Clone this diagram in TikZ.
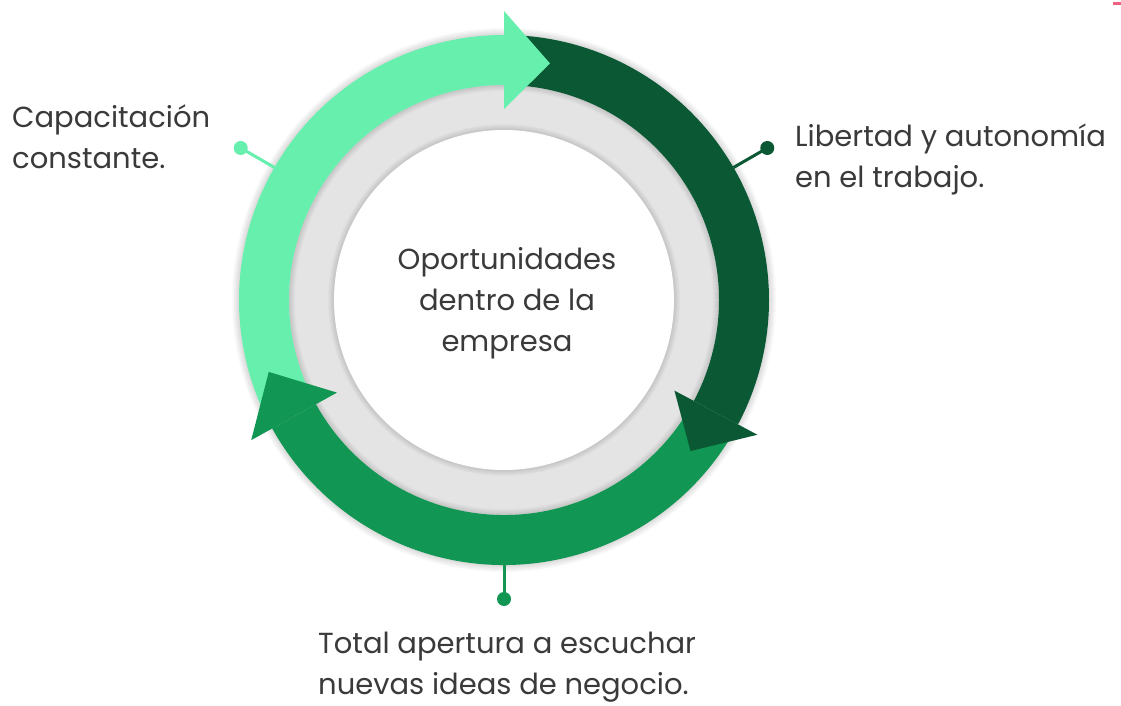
\documentclass[tikz,border=0pt]{standalone}
\usepackage{fontspec}
\setmainfont{Poppins}
\definecolor{lightg}{HTML}{66EFAD}
\definecolor{darkg}{HTML}{0A5934}
\definecolor{midg}{HTML}{119653}
\definecolor{ringgray}{HTML}{E4E4E4}
\definecolor{txt}{HTML}{3A3A3A}
\definecolor{pinkmark}{HTML}{F06080}
\tikzset{
  lbl/.style={inner sep=0pt, text=txt, font=\fontsize{29}{41}\selectfont},
  pindot/.style={circle, inner sep=0pt, minimum size=14pt},
  pinline/.style={line width=3pt},
}
\begin{document}
\begin{tikzpicture}[x=1pt,y=1pt]
\useasboundingbox (0,0) rectangle (1121,705);
\fill[white] (0,0) rectangle (1121,705);
\begin{scope}[shift={(504,405)}]
  % outer halo shadow
  \foreach \k in {1,...,7} {\fill[black,opacity=0.02] (0,0) circle (265+\k);}
  % gray disk
  \fill[ringgray] (0,0) circle (215);
  \foreach \k in {1,...,6} {\fill[black,opacity=0.02,even odd rule] (0,0) circle (215) (0,0) circle (215-\k);}
  \foreach \k in {1,...,6} {\fill[black,opacity=0.02] (0,0) circle (170+\k);}
  \fill[white] (0,0) circle (170);
  % band bodies
  \fill[lightg] (204:265) arc[start angle=204, end angle=90, radius=265] -- (90:215) arc[start angle=90, end angle=204, radius=215] -- cycle;
  \fill[darkg] (86:265) arc[start angle=86, end angle=-28, radius=265] -- (-28:215) arc[start angle=-28, end angle=86, radius=215] -- cycle;
  \fill[midg] (-32:265) arc[start angle=-32, end angle=-151, radius=265] -- (-151:215) arc[start angle=-151, end angle=-32, radius=215] -- cycle;
  % heads
  \fill[lightg] (90:289) -- (79:241) -- (90:191) -- cycle;
  \fill[darkg] (-28:287) -- (-39:240) -- (-28:193) -- cycle;
  \fill[midg] (-151:289) -- (-163:246) -- (-151:191) -- cycle;
  % pins
  \coordinate (p1) at (150:265);
  \coordinate (p2) at (30:265);
  \coordinate (p3) at (270:262);
  \node[pindot, fill=lightg] (d1) at (150:304) {};
  \node[pindot, fill=darkg] (d2) at (30:304) {};
  \node[pindot, fill=midg] (d3) at (270:299) {};
  \draw[pinline, lightg] (p1) -- (d1.center);
  \draw[pinline, darkg] (p2) -- (d2.center);
  \draw[pinline, midg] (p3) -- (d3.center);
  \node[lbl, align=center, anchor=center] (center) at (3,-3) {Oportunidades\\dentro de la\\empresa};
\end{scope}
\node[lbl, align=left, anchor=north west] (capac) at (12,601) {Capacitación\\constante.};
\node[lbl, align=left, anchor=north west] (liber) at (795,581) {Libertad y autonomía\\en el trabajo.};
\node[lbl, align=left, anchor=north west] (total) at (318,73) {Total apertura a escuchar\\nuevas ideas de negocio.};
\fill[pinkmark] (1113,700) rectangle (1121,703);
\end{tikzpicture}
\end{document}
